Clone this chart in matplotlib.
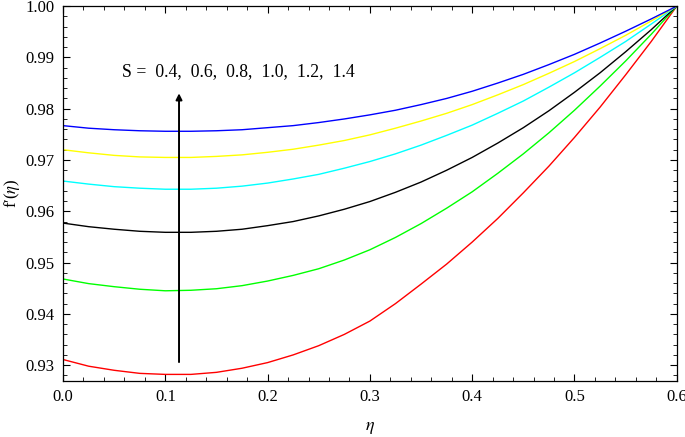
import numpy as np
import matplotlib.pyplot as plt
from matplotlib.ticker import MultipleLocator

plt.rcParams['font.family'] = ['Liberation Serif', 'DejaVu Serif']
plt.rcParams['mathtext.fontset'] = 'stix'

# valores (passo 0.025)
eta = [0.000, 0.025, 0.050, 0.075, 0.100, 0.125, 0.150, 0.175, 0.200,
       0.225, 0.250, 0.275, 0.300, 0.325, 0.350, 0.375, 0.400, 0.425,
       0.450, 0.475, 0.500, 0.525, 0.550, 0.575, 0.600]

f_s04 = [0.9311, 0.9298, 0.9290, 0.9284, 0.9282, 0.9282, 0.9286, 0.9294, 0.9305,
         0.9320, 0.9338, 0.9360, 0.9386, 0.9420, 0.9458, 0.9497, 0.9540, 0.9586,
         0.9636, 0.9688, 0.9744, 0.9803, 0.9866, 0.9931, 1.0000]
f_s06 = [0.9468, 0.9459, 0.9453, 0.9448, 0.9445, 0.9446, 0.9449, 0.9455, 0.9464,
         0.9475, 0.9488, 0.9505, 0.9525, 0.9549, 0.9576, 0.9606, 0.9638, 0.9674,
         0.9712, 0.9753, 0.9797, 0.9844, 0.9893, 0.9945, 1.0000]
f_s08 = [0.9577, 0.9570, 0.9565, 0.9561, 0.9559, 0.9559, 0.9561, 0.9565, 0.9572,
         0.9580, 0.9591, 0.9604, 0.9619, 0.9637, 0.9657, 0.9680, 0.9705, 0.9733,
         0.9763, 0.9796, 0.9832, 0.9870, 0.9911, 0.9954, 1.0000]
f_s10 = [0.9659, 0.9653, 0.9648, 0.9645, 0.9643, 0.9643, 0.9645, 0.9649, 0.9655,
         0.9663, 0.9672, 0.9684, 0.9697, 0.9712, 0.9729, 0.9748, 0.9768, 0.9791,
         0.9815, 0.9842, 0.9870, 0.9900, 0.9931, 0.9965, 1.0000]
f_s12 = [0.9720, 0.9714, 0.9709, 0.9706, 0.9705, 0.9705, 0.9707, 0.9710, 0.9715,
         0.9721, 0.9729, 0.9738, 0.9749, 0.9762, 0.9776, 0.9791, 0.9808, 0.9827,
         0.9847, 0.9869, 0.9892, 0.9917, 0.9943, 0.9971, 1.0000]
f_s14 = [0.9767, 0.9762, 0.9759, 0.9757, 0.9756, 0.9756, 0.9757, 0.9759, 0.9763,
         0.9767, 0.9773, 0.9780, 0.9788, 0.9797, 0.9808, 0.9820, 0.9834, 0.9850,
         0.9867, 0.9886, 0.9906, 0.9928, 0.9951, 0.9975, 1.0000]

curves = [f_s04, f_s06, f_s08, f_s10, f_s12, f_s14]
colors = ['#ff0000', '#00ff00', '#000000', '#00ffff', '#ffff00', '#0000ff']

fig = plt.figure(figsize=(6.85, 4.37), dpi=100)
ax = fig.add_axes([0.092, 0.128, 0.896, 0.858])

for f, c in zip(curves, colors):
    ax.plot(eta, f, color=c, lw=1.0)

# seta indicando o aumento de S
ax.annotate('', xy=(0.1134, 0.9830), xytext=(0.1134, 0.9306),
            arrowprops=dict(arrowstyle='-|>', color='black', lw=1.4,
                            mutation_scale=9, shrinkA=0, shrinkB=0))
ax.text(0.0573, 0.9872, 'S =  0.4,  0.6,  0.8,  1.0,  1.2,  1.4',
        fontsize=12.8, va='center', ha='left')

ax.set_xlim(0, 0.6)
ax.set_ylim(0.9269, 1.0)
ax.xaxis.set_major_locator(MultipleLocator(0.1))
ax.xaxis.set_minor_locator(MultipleLocator(0.02))
ax.yaxis.set_major_locator(MultipleLocator(0.01))
ax.yaxis.set_minor_locator(MultipleLocator(0.002))
ax.xaxis.set_major_formatter(plt.FormatStrFormatter('%.1f'))
ax.yaxis.set_major_formatter(plt.FormatStrFormatter('%.2f'))
ax.tick_params(which='both', direction='in', top=True, right=True, labelsize=12)
ax.tick_params(which='major', length=5, width=0.8, pad=6)
ax.tick_params(which='minor', length=3, width=0.6)
for s in ax.spines.values():
    s.set_linewidth(0.9)

ax.set_xlabel(r'$\eta$', fontsize=13, va='center')
ax.xaxis.set_label_coords(0.5, -0.124)
ax.set_ylabel('f\u2032(' + r'$\eta$' + ')', fontsize=12, va='center')
ax.yaxis.set_label_coords(-0.083, 0.5)

plt.savefig('out.png', dpi=100)
